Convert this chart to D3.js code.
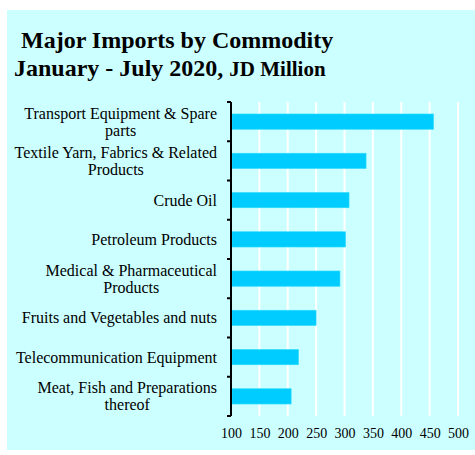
<!DOCTYPE html>
<html><head><meta charset="utf-8">
<script src="https://cdn.jsdelivr.net/npm/d3@7"></script>
<style>body{margin:0;background:#fff;}svg{display:block;}</style>
</head><body>
<svg id="chart" width="475" height="455"></svg>
<script>
const categories = [
  ["Transport Equipment & Spare", "parts"],
  ["Textile Yarn, Fabrics & Related", "Products"],
  ["Crude Oil"],
  ["Petroleum Products"],
  ["Medical & Pharmaceutical", "Products"],
  ["Fruits and Vegetables and nuts"],
  ["Telecommunication Equipment"],
  ["Meat, Fish and Preparations", "thereof"]
];
const values = [457, 338, 308, 302, 292, 250, 219, 206];
const tickValues = [100, 150, 200, 250, 300, 350, 400, 450, 500];

const svg = d3.select("#chart");
const serif = "'Liberation Serif', 'Times New Roman', serif";

svg.append("rect").attr("x", 7).attr("y", 10).attr("width", 468).attr("height", 440).attr("fill", "#CCFFFF");

// title
svg.append("text").attr("x", 21).attr("y", 48).attr("font-family", serif)
  .attr("font-weight", "bold").attr("font-size", 24).attr("fill", "#000").text("Major Imports by Commodity");
const t2 = svg.append("text").attr("x", 14).attr("y", 76).attr("font-family", serif)
  .attr("font-weight", "bold").attr("font-size", 24).attr("fill", "#000");
t2.append("tspan").text("January - July 2020, ");
t2.append("tspan").attr("font-size", 21).text("JD Million");

const x = d3.scaleLinear().domain([100, 500]).range([231, 458]);
const idx = d3.range(categories.length);
const y = d3.scaleBand().domain(idx).range([102, 416]).paddingInner(0.61).paddingOuter(0.305);
const yb = d3.scaleBand().domain(idx).range([102, 416]);

// gridlines
svg.append("g").selectAll("line").data(tickValues.slice(1)).join("line")
  .attr("x1", d => x(d)).attr("x2", d => x(d)).attr("y1", 102).attr("y2", 416)
  .attr("stroke", "#fff").attr("stroke-width", 2);

// bars
svg.append("g").selectAll("rect").data(values).join("rect")
  .attr("x", x(100) + 1).attr("y", (d, i) => y(i))
  .attr("width", d => x(d) - x(100) - 1).attr("height", y.bandwidth())
  .attr("fill", "#00CCFF").attr("stroke", "#33DDFF").attr("stroke-width", 0.6);

// y axis line + ticks at boundaries
const bounds = idx.map(i => yb(i)).concat([416]);
svg.append("line").attr("x1", x(100)).attr("x2", x(100)).attr("y1", 102).attr("y2", 416)
  .attr("stroke", "#000").attr("stroke-width", 2);
svg.append("g").selectAll("line").data(bounds).join("line")
  .attr("x1", x(100) - 4).attr("x2", x(100)).attr("y1", d => d).attr("y2", d => d)
  .attr("stroke", "#000").attr("stroke-width", 2);

// category labels: block right-aligned at 217, lines centered within the block
const lab = svg.append("g").attr("font-family", serif).attr("font-size", 16).attr("fill", "#000");
const rightX = 217, lh = 17;
categories.forEach((lines, i) => {
  const cy = yb(i) + yb.bandwidth() / 2;
  const t = lab.append("text").attr("text-anchor", "middle");
  const spans = lines.map((l, j) => t.append("tspan").attr("y", cy - (lines.length - 1) * lh / 2 + j * lh)
    .attr("dy", "0.35em").text(l));
  const w = d3.max(spans, s => s.node().getComputedTextLength());
  spans.forEach(s => s.attr("x", rightX - w / 2));
});

// x axis labels
const xa = svg.append("g").attr("transform", "translate(0,416)")
  .call(d3.axisBottom(x).tickValues(tickValues).tickSize(0).tickPadding(12));
xa.select(".domain").remove();
xa.selectAll("text").attr("font-family", serif).attr("font-size", 14).attr("fill", "#000");
</script>
</body></html>
